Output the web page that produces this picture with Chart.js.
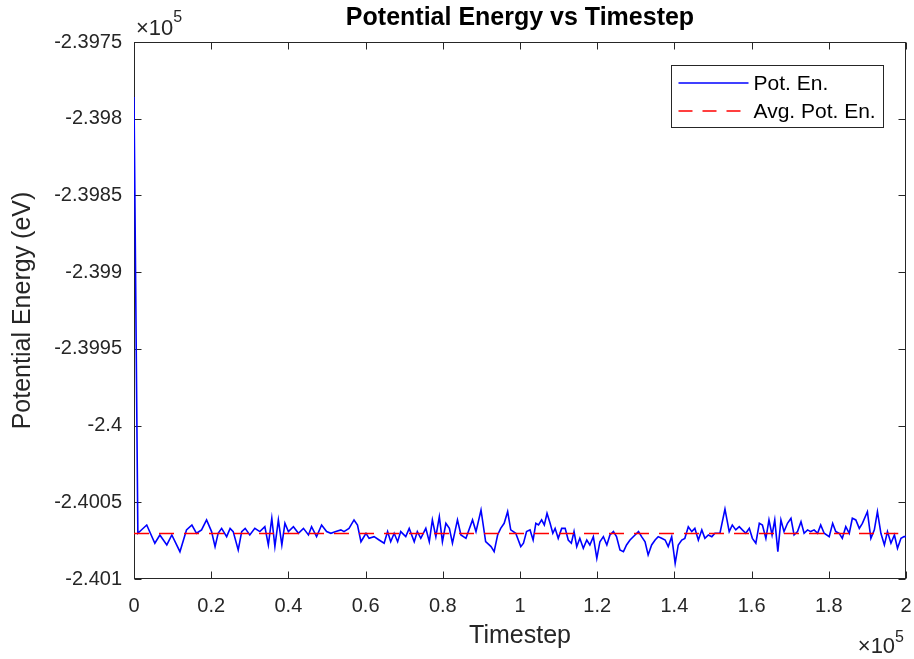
<!DOCTYPE html>
<html>
<head>
<meta charset="utf-8">
<script src="https://cdn.jsdelivr.net/npm/chart.js@4.4.1/dist/chart.umd.min.js"></script>
<style>
  html, body { margin: 0; padding: 0; background: #ffffff; }
  #wrap { width: 914px; height: 659px; }
</style>
</head>
<body>
<div id="wrap"><canvas id="c" width="914" height="659"></canvas></div>
<script>
// ---- Data ----
const timesteps = [0, 1000, 3300, 5400, 6700, 8500, 9800, 11900, 13600, 15000, 16200, 17500, 18800, 20100, 21000, 21800, 22700, 24000, 24900, 25700,
  27000, 27900, 28800, 30000, 31300, 32600, 33900, 34800, 35700, 36500, 37400, 38300, 39100, 40000, 41300, 42600, 43900, 45200, 46000, 47300,
  48600, 49900, 51000, 52300, 53600, 54400, 55700, 57000, 57900, 58800, 60100, 60900, 62200, 63500, 64800, 65700, 66500, 67400, 68300, 69100,
  70400, 71300, 72600, 73400, 74300, 75600, 76500, 77300, 78200, 79100, 79900, 80800, 81700, 82500, 83800, 84700, 86000, 87700, 88600, 89900,
  91100, 92500, 93300, 94200, 95000, 95900, 96800, 97600, 98900, 100200, 100900, 101700, 102600, 103400, 104100, 104800, 105600, 106300, 107000, 107800,
  108500, 109100, 109900, 110800, 111700, 112500, 113300, 114000, 114700, 115500, 116400, 117300, 118100, 119000, 119900, 120700, 121600, 122500, 123300, 124200,
  125000, 125900, 126800, 127600, 128500, 129800, 130700, 131500, 132400, 133200, 134100, 135000, 135800, 136700, 137600, 138400, 139300, 140200, 141000, 141900,
  142700, 143600, 144500, 145300, 146200, 147100, 147900, 148800, 149700, 150500, 151800, 153100, 154200, 155000, 155900, 156800, 157600, 158500, 159400, 160200,
  161100, 162000, 162800, 163700, 164500, 165300, 166000, 166800, 167600, 168400, 169300, 170200, 171000, 171900, 172800, 173600, 174500, 175300, 176200, 177100,
  177900, 178800, 180100, 181000, 181800, 182700, 183500, 184400, 185300, 186100, 187000, 187900, 188700, 190000, 190900, 191800, 192600, 193500, 194400, 195200,
  196100, 197000, 197800, 198700, 199500, 200000];

const potEnergy = [-239785.8, -240070.2, -240064.8, -240076.7, -240071.3, -240077.8, -240071.3, -240082.2, -240068.0, -240064.8, -240070.2, -240068.0, -240061.5, -240069.1, -240078.9, -240070.2, -240067.0, -240072.4, -240067.0, -240069.1,
  -240081.1, -240069.1, -240067.0, -240071.3, -240067.0, -240069.1, -240065.9, -240077.8, -240060.4, -240078.9, -240061.5, -240077.8, -240063.7, -240069.1, -240065.9, -240070.2, -240067.0, -240071.3, -240065.9, -240072.4,
  -240064.8, -240069.1, -240070.2, -240069.1, -240068.0, -240069.1, -240067.0, -240061.5, -240064.8, -240075.7, -240070.2, -240073.5, -240072.4, -240074.6, -240076.7, -240069.1, -240075.7, -240070.2, -240075.7, -240069.1,
  -240072.4, -240067.0, -240075.7, -240069.1, -240073.5, -240067.0, -240075.7, -240061.5, -240072.4, -240059.4, -240075.7, -240063.7, -240067.0, -240076.7, -240061.5, -240071.3, -240073.5, -240061.5, -240069.1, -240055.0,
  -240075.7, -240078.9, -240082.2, -240071.3, -240067.0, -240063.7, -240056.1, -240068.0, -240070.2, -240078.9, -240076.7, -240069.1, -240068.0, -240074.6, -240063.7, -240064.8, -240061.5, -240064.8, -240057.2, -240063.7,
  -240070.2, -240067.0, -240073.5, -240067.0, -240067.0, -240074.6, -240076.7, -240069.1, -240078.9, -240073.5, -240080.0, -240074.6, -240077.8, -240072.4, -240086.5, -240075.7, -240072.4, -240077.8, -240071.3, -240069.1,
  -240072.4, -240081.1, -240082.2, -240077.8, -240074.6, -240071.3, -240069.1, -240072.4, -240075.7, -240084.3, -240077.8, -240074.6, -240072.4, -240073.5, -240074.6, -240078.9, -240072.4, -240089.8, -240077.8, -240074.6,
  -240073.5, -240065.9, -240069.1, -240067.0, -240074.6, -240068.0, -240073.5, -240071.3, -240072.4, -240070.2, -240070.2, -240054.4, -240069.1, -240064.8, -240068.0, -240065.9, -240068.0, -240070.2, -240067.0, -240073.5,
  -240076.7, -240063.7, -240064.8, -240073.5, -240061.5, -240071.3, -240061.5, -240082.2, -240061.5, -240069.1, -240063.7, -240060.4, -240071.3, -240069.1, -240062.6, -240070.2, -240068.0, -240069.1, -240068.0, -240070.2,
  -240064.8, -240070.2, -240072.4, -240063.7, -240069.1, -240070.2, -240073.5, -240065.9, -240070.2, -240060.4, -240061.5, -240067.0, -240063.7, -240056.1, -240073.5, -240068.0, -240056.1, -240070.2, -240077.8, -240069.1,
  -240076.7, -240071.3, -240080.0, -240073.5, -240072.4, -240072.4];

const avgPotEnergy = -240070.3;
const avgSpan = [0, 198000];

const xTicks = [0, 0.2, 0.4, 0.6, 0.8, 1, 1.2, 1.4, 1.6, 1.8, 2];             // x 10^5
const yTicks = [-2.3975, -2.398, -2.3985, -2.399, -2.3995, -2.4, -2.4005, -2.401]; // x 10^5

const seriesLabels = ['Pot. En.', 'Avg. Pot. En.'];
const titleText = 'Potential Energy vs Timestep';
const xTitle = 'Timestep';
const yTitle = 'Potential Energy (eV)';

// ---- Build datasets ----
const n = Math.min(timesteps.length, potEnergy.length);
const potData = [];
for (let i = 0; i < n; i++) potData.push({ x: timesteps[i], y: potEnergy[i] });
const avgData = avgSpan.map(t => ({ x: t, y: avgPotEnergy }));

const FONT = "'Liberation Sans', Arial, Helvetica, sans-serif";
const AX = '#262626';
Chart.defaults.font.family = FONT;

function fmt(v) { return parseFloat((v / 1e5).toFixed(5)).toString(); }

const matlabAxes = {
  id: 'matlabAxes',
  beforeDatasetsDraw(chart) {
    const { ctx, chartArea: a, scales: { x, y } } = chart;
    const L = Math.round(a.left) + 0.5, R = Math.round(a.right) - 0.5;
    const T = Math.round(a.top) + 0.5, B = Math.round(a.bottom) - 0.5;
    ctx.save();
    ctx.strokeStyle = AX;
    ctx.lineWidth = 1;
    ctx.setLineDash([]);
    ctx.strokeRect(L, T, R - L, B - T);
    const tl = 7;
    ctx.beginPath();
    x.ticks.forEach(t => {
      const px = Math.round(x.getPixelForValue(t.value)) + 0.5;
      ctx.moveTo(px, B); ctx.lineTo(px, B - tl);
      ctx.moveTo(px, T); ctx.lineTo(px, T + tl);
    });
    y.ticks.forEach(t => {
      const py = Math.round(y.getPixelForValue(t.value)) + 0.5;
      ctx.moveTo(L, py); ctx.lineTo(L + tl, py);
      ctx.moveTo(R, py); ctx.lineTo(R - tl, py);
    });
    ctx.stroke();
    ctx.restore();
  },
  afterDraw(chart) {
    const { ctx, chartArea: a } = chart;
    ctx.save();
    // title, centred over the plot area
    ctx.fillStyle = '#000000';
    ctx.textAlign = 'center';
    ctx.textBaseline = 'middle';
    ctx.font = 'bold 25px ' + FONT;
    ctx.fillText(titleText, (a.left + a.right) / 2, 18);

    // exponent labels
    ctx.fillStyle = AX;
    ctx.textBaseline = 'alphabetic';
    ctx.textAlign = 'left';
    ctx.font = '22px ' + FONT;
    const w10 = ctx.measureText('\u00D710').width;
    ctx.fillText('\u00D710', a.left + 2, a.top - 7);
    ctx.font = '16px ' + FONT;
    ctx.fillText('5', a.left + 2 + w10, a.top - 20);
    const w5 = ctx.measureText('5').width;
    ctx.fillText('5', a.right - 2 - w5, 642);
    ctx.font = '22px ' + FONT;
    ctx.fillText('\u00D710', a.right - 2 - w5 - w10, 653);

    // legend
    const ds = chart.data.datasets;
    ctx.font = '21px ' + FONT;
    let maxW = 0;
    ds.forEach(d => { maxW = Math.max(maxW, ctx.measureText(d.label).width); });
    const lineLen = 70, pad = 7, gap = 5;
    const boxW = Math.round(pad + lineLen + gap + maxW + 8);
    const boxH = 62;
    const right = Math.round(a.right - 23);
    const bx = right - boxW + 0.5;
    const by = Math.round(a.top + 23) + 0.5;
    ctx.fillStyle = '#ffffff';
    ctx.fillRect(bx, by, boxW, boxH);
    ctx.strokeStyle = AX;
    ctx.lineWidth = 1;
    ctx.strokeRect(bx, by, boxW, boxH);
    ds.forEach((d, i) => {
      const cy = Math.round(by + 17 + i * 28);
      ctx.save();
      ctx.strokeStyle = d.borderColor;
      ctx.lineWidth = d.borderWidth;
      ctx.setLineDash(d.legendDash || d.borderDash || []);
      ctx.beginPath();
      ctx.moveTo(bx + pad, cy);
      ctx.lineTo(bx + pad + lineLen, cy);
      ctx.stroke();
      ctx.restore();
      ctx.fillStyle = '#000000';
      ctx.textBaseline = 'middle';
      ctx.textAlign = 'left';
      ctx.fillText(d.label, bx + pad + lineLen + gap, cy + 1);
    });
    ctx.restore();
  }
};

new Chart(document.getElementById('c'), {
  type: 'line',
  data: {
    datasets: [
      {
        label: seriesLabels[0],
        data: potData,
        borderColor: '#0000FF',
        borderWidth: 1.6,
        pointRadius: 0,
        tension: 0,
        fill: false,
        order: 1
      },
      {
        label: seriesLabels[1],
        data: avgData,
        borderColor: '#FF0000',
        borderWidth: 1.4,
        borderDash: [15, 10],
        legendDash: [14, 10],
        pointRadius: 0,
        tension: 0,
        fill: false,
        order: 0
      }
    ]
  },
  options: {
    responsive: false,
    animation: false,
    events: [],
    layout: { padding: { left: 0, right: 8, top: 42, bottom: 0 } },
    plugins: {
      legend: { display: false },
      tooltip: { enabled: false },
      title: { display: false }
    },
    scales: {
      x: {
        type: 'linear',
        position: 'bottom',
        min: 0,
        max: 200000,
        afterBuildTicks: s => { s.ticks = xTicks.map(v => ({ value: Math.round(v * 1e5) })); },
        ticks: {
          callback: v => fmt(v),
          font: { size: 20, family: FONT },
          color: AX,
          padding: 7,
          maxRotation: 0,
          autoSkip: false
        },
        grid: { display: false },
        border: { display: false },
        title: {
          display: true,
          text: xTitle,
          color: AX,
          font: { size: 25, family: FONT },
          padding: { top: 0, bottom: 8 }
        },
        afterFit: s => { s.height = 80; s.paddingLeft = 0; s.paddingRight = 0; }
      },
      y: {
        type: 'linear',
        position: 'left',
        min: -240100,
        max: -239750,
        afterBuildTicks: s => { s.ticks = yTicks.map(v => ({ value: Math.round(v * 1e5) })); },
        ticks: {
          callback: v => fmt(v),
          font: { size: 20, family: FONT },
          color: AX,
          padding: 4,
          autoSkip: false
        },
        grid: { display: false },
        border: { display: false },
        title: {
          display: true,
          text: yTitle,
          color: AX,
          font: { size: 25, family: FONT },
          padding: { top: 8, bottom: 0 }
        },
        afterFit: s => { s.width = 134; s.paddingTop = 0; s.paddingBottom = 0; }
      }
    }
  },
  plugins: [matlabAxes]
});
</script>
</body>
</html>
